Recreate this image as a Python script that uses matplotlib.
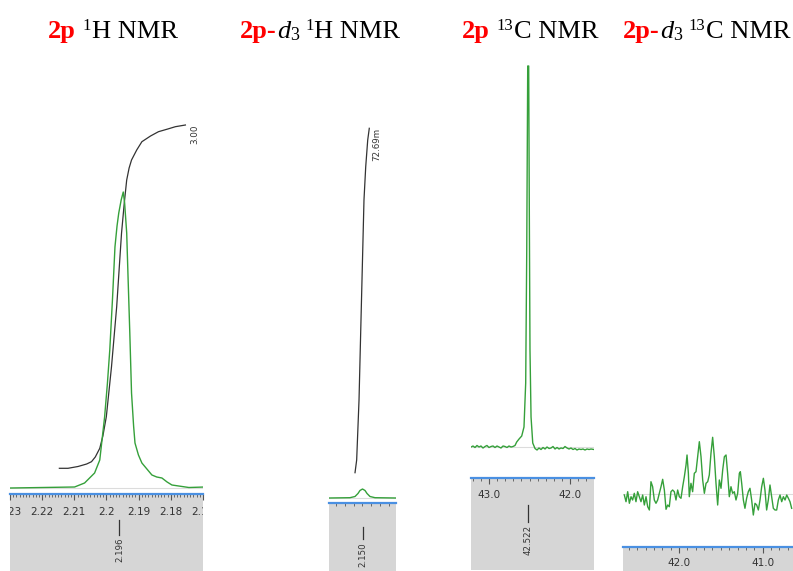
import matplotlib

matplotlib.use("Agg")
import matplotlib.pyplot as plt
import matplotlib.transforms as mtransforms
from matplotlib.ticker import MultipleLocator

W, H = 793, 571

# ---- panel 1: 2p 1H NMR ----
h1_ppm = [2.2285, 2.2100, 2.2071, 2.2042, 2.2027, 2.2013, 2.2005, 2.1998, 2.1990,
          2.1983, 2.1977, 2.1972, 2.1965, 2.1959, 2.1955, 2.1949, 2.1945, 2.1940,
          2.1935, 2.1929, 2.1925, 2.1915, 2.1905, 2.1876, 2.1862, 2.1847, 2.1832,
          2.1818, 2.1769, 2.1722]
h1_int = [0, 1, 5, 15, 28, 71, 104, 138, 190, 241, 262, 275, 288, 296, 285, 255, 210,
          155, 95, 62, 45, 33, 25, 13, 11, 10, 6, 3, 0.5, 1]
h1_integral_ppm = [2.2144, 2.2119, 2.2090, 2.2065, 2.2051, 2.2040, 2.2027, 2.2018,
                   2.2008, 2.1993, 2.1978, 2.1964, 2.1956, 2.1949, 2.1942, 2.1935,
                   2.1920, 2.1905, 2.1880, 2.1857, 2.1830, 2.1808, 2.1779]
h1_integral = [19.7, 19.7, 21.5, 24, 26.3, 31, 39.7, 52, 71.3, 121.3, 181.3, 254.7,
               285, 308, 320, 328, 338, 346.3, 352, 356.3, 359, 361.3, 363]
h1_integral_label = "3.00"
h1_integral_label_ppm = 2.1751
h1_ticks = [2.23, 2.22, 2.21, 2.20, 2.19, 2.18, 2.17]
h1_ticklabels = ["2.23", "2.22", "2.21", "2.2", "2.19", "2.18", "2.17"]
h1_peak = 2.196

# ---- panel 2: 2p-d3 1H NMR ----
h1d_ppm = [2.1885, 2.1644, 2.1586, 2.1552, 2.1529, 2.1500, 2.1471, 2.1448, 2.1414,
           2.1356, 2.1115]
h1d_int = [0, 0.3, 1.5, 4.5, 7.5, 9, 7.5, 4.5, 1.5, 0.3, 0]
h1d_integral_ppm = [2.1586, 2.1567, 2.1540, 2.1521, 2.1502, 2.1483, 2.1463, 2.1440,
                    2.1422]
h1d_integral = [25.3, 38, 98, 165, 231.3, 298, 331.3, 358, 369.7]
h1d_integral_label = "72.69m"
h1d_integral_label_ppm = 2.1333
h1d_peak = 2.150

# ---- panel 3: 2p 13C NMR ----
c13_ppm = [43.222, 43.197, 43.173, 43.148, 43.123, 43.099, 43.074, 43.049, 43.025,
           43.000, 42.975, 42.950, 42.926, 42.901, 42.876, 42.852, 42.827, 42.802,
           42.778, 42.753, 42.728, 42.704, 42.679, 42.658, 42.629, 42.596, 42.568,
           42.547, 42.534, 42.522, 42.510, 42.502, 42.494, 42.481, 42.460, 42.432,
           42.407, 42.383, 42.358, 42.333, 42.308, 42.284, 42.259, 42.234, 42.210,
           42.185, 42.160, 42.136, 42.111, 42.086, 42.062, 42.037, 42.012, 41.988,
           41.963, 41.938, 41.914, 41.889, 41.864, 41.840, 41.815, 41.790, 41.765,
           41.741, 41.704]
c13_int = [0, 1, -0.5, 1.5, 0, 1, -1, 0.5, 1.5, -0.5, 0.5, 1, -0.5, 1, 0, -1, 1, 0.5,
           -0.5, 1, 0, 0.5, 1.5, 5, 8, 11, 20, 64, 197, 381, 381, 230, 97, 30, 4,
           -1.5, -3, -1, -2.5, -0.5, -2, 0, -1.5, -1, 0.5, -2, -0.5, -2, -1, -1.5,
           0.5, -1, -2, -1, -2.5, -1.5, -3, -2, -2.5, -2, -3, -2, -2.5, -2, -2.5]
c13_ticks = [43.0, 42.0]
c13_ticklabels = ["43.0", "42.0"]
c13_peak = 42.522

# ---- panel 4: 2p-d3 13C NMR ----
c13d_ppm = [42.653, 42.633, 42.613, 42.593, 42.573, 42.554, 42.534, 42.514, 42.494,
            42.474, 42.454, 42.434, 42.414, 42.394, 42.374, 42.354, 42.335, 42.315,
            42.295, 42.275, 42.255, 42.235, 42.215, 42.195, 42.175, 42.155, 42.135,
            42.116, 42.096, 42.076, 42.056, 42.036, 42.016, 41.996, 41.976, 41.956,
            41.936, 41.916, 41.904, 41.888, 41.877, 41.857, 41.837, 41.817, 41.797,
            41.777, 41.757, 41.737, 41.717, 41.697, 41.677, 41.657, 41.638, 41.618,
            41.598, 41.578, 41.558, 41.538, 41.518, 41.498, 41.478, 41.458, 41.438,
            41.419, 41.399, 41.379, 41.359, 41.339, 41.319, 41.299, 41.279, 41.267,
            41.251, 41.231, 41.212, 41.192, 41.172, 41.152, 41.132, 41.112, 41.092,
            41.072, 41.052, 41.032, 41.012, 40.992, 40.973, 40.953, 40.933, 40.913,
            40.893, 40.873, 40.853, 40.833, 40.813, 40.793, 40.773, 40.753, 40.733,
            40.713, 40.693, 40.674, 40.654]
c13d_int = [-1, -7.7, 2.3, -9.3, -2.7, -6, 0.7, -7.7, 2.3, -2.7, -7.7, -1, -11, -2.7,
            -12.7, -16, 12.3, 7.3, -6, -9.3, -6, 0.7, 7.3, 14.7, 4, -15.3, -11, -12.7,
            2.3, 4, 2.3, -6, 4, -2.7, -4.3, 7.3, 17.3, 29, 39, 20.7, -2.7, 10.7, 2.3,
            20.7, 22.3, 37.3, 52.3, 37.3, 14, 0.7, 10.7, 12.3, 19, 40.7, 56.7, 37.3,
            10.7, -11, 14, 5.7, 24, 37.3, 39, 20.7, -2.7, 7.3, 0.7, 2.3, -6, 0.7, 20.7,
            22.3, 10.7, -6, -14.3, -4.3, 2.3, 5.7, -6, -21, -9.3, -11, -16, -6, 7.3,
            15.7, 4, -16, -6, 9, -2.7, -14.3, -16, -16, -6, -1, -7.7, -2.7, -6, -1,
            -4.3, -7.7, -14.3]
c13d_ticks = [42.0, 41.0]
c13d_ticklabels = ["42.0", "41.0"]

GREEN = "#35a03a"
DARK = "#333333"
GREY_BOX = "#d6d6d6"
BLUE = "#4a90e2"

fig = plt.figure(figsize=(W / 100, H / 100), dpi=100)


def px_axes(x0, x1, y0, y1):
    return fig.add_axes([x0 / W, 1 - y1 / H, (x1 - x0) / W, (y1 - y0) / H])


def draw_panel(x0, x1, top, bottom, base, xlim, ppm, inten,
               ticks, ticklabels, minor, label_off,
               integ_ppm=None, integ=None, integ_label=None, marker=None):
    ax = px_axes(x0, x1, 55, top)
    ax.set_xlim(*xlim)
    ax.set_ylim(-(top - base), base - 55)
    ax.axis("off")
    ax.axhline(0, color="#dcdcdc", lw=0.8, zorder=1)
    ax.plot(ppm, inten, color=GREEN, lw=1.0, zorder=3)
    if integ is not None:
        ax.plot(integ_ppm, integ, color=DARK, lw=0.9, zorder=2)
        ax.text(integ_label[1], integ[-1], integ_label[0], rotation=90,
                ha="center", va="top", fontsize=6.3, color=DARK)

    sc = px_axes(x0, x1, top, bottom)
    sc.set_xlim(*xlim)
    sc.set_ylim(0, 1)
    sc.set_facecolor(GREY_BOX)
    for side in ["left", "right", "bottom"]:
        sc.spines[side].set_visible(False)
    sc.spines["top"].set_color(BLUE)
    sc.spines["top"].set_linewidth(1.6)
    sc.set_yticks([])
    sc.set_xticks(ticks)
    sc.set_xticklabels([])
    sc.xaxis.set_minor_locator(MultipleLocator(minor))
    sc.tick_params(axis="x", which="both", top=True, bottom=False, direction="in",
                   labelbottom=False, labeltop=False, color="#555555")
    sc.tick_params(axis="x", which="major", length=4.5, width=0.8)
    sc.tick_params(axis="x", which="minor", length=2.2, width=0.6)
    h = bottom - top
    trans = mtransforms.blended_transform_factory(sc.transData, sc.transAxes)
    for v, lab in zip(ticks, ticklabels):
        sc.text(v, 1 - label_off / h, lab, transform=trans, ha="center", va="center",
                fontsize=7.5, color=DARK, clip_on=True)
    if marker is not None:
        pos, l0, l1 = marker
        sc.plot([pos, pos], [1 - l0 / h, 1 - l1 / h], transform=trans, color=DARK,
                lw=0.9)
        sc.text(pos, 1 - (l1 + 3) / h, f"{pos:.3f}", transform=trans, rotation=90,
                ha="center", va="top", fontsize=6.2, color=DARK)
    return ax


draw_panel(10, 203, 494, 571, 488, (2.2287, 2.1728), h1_ppm, h1_int,
           h1_ticks, h1_ticklabels, 0.001, 18,
           h1_integral_ppm, h1_integral, (h1_integral_label, h1_integral_label_ppm),
           (h1_peak, 26, 41))
draw_panel(329, 396, 503, 571, 498, (2.1885, 2.1115), h1d_ppm, h1d_int,
           [], [], 0.01, 18,
           h1d_integral_ppm, h1d_integral,
           (h1d_integral_label, h1d_integral_label_ppm), (h1d_peak, 24, 36))
draw_panel(471, 594, 478, 570, 447, (43.222, 41.704), c13_ppm, c13_int,
           c13_ticks, c13_ticklabels, 0.1, 17, marker=(c13_peak, 27, 44))
draw_panel(623, 793, 547, 571, 494, (42.669, 40.638), c13d_ppm, c13d_int,
           c13d_ticks, c13d_ticklabels, 0.1, 16)

# ---- titles built from styled pieces ----
renderer = fig.canvas.get_renderer()


def draw_title(x, y, pieces):
    for s, color, weight, style, size, dy, gap in pieces:
        t = fig.text(x / W, 1 - (y - dy) / H, s, color=color, fontweight=weight,
                     fontstyle=style, fontsize=size, family="Liberation Serif",
                     ha="left", va="baseline")
        x += t.get_window_extent(renderer).width + gap


RED = "#ff0000"
TS = 19
draw_title(48, 38, [("2p", RED, "bold", "normal", TS, 0, 7),
                    ("1", "black", "normal", "normal", 12, 8, 0.5),
                    ("H NMR", "black", "normal", "normal", TS, 0, 0)])
draw_title(240, 38, [("2p-", RED, "bold", "normal", TS, 0, 0),
                     ("d", "black", "normal", "italic", TS, 0, 0.5),
                     ("3", "black", "normal", "normal", 13, -2, 6),
                     ("1", "black", "normal", "normal", 12, 8, 0.5),
                     ("H NMR", "black", "normal", "normal", TS, 0, 0)])
draw_title(462, 38, [("2p", RED, "bold", "normal", TS, 0, 7),
                     ("13", "black", "normal", "normal", 12, 8, 0.5),
                     ("C NMR", "black", "normal", "normal", TS, 0, 0)])
draw_title(623, 38, [("2p-", RED, "bold", "normal", TS, 0, 0),
                     ("d", "black", "normal", "italic", TS, 0, 0.5),
                     ("3", "black", "normal", "normal", 13, -2, 6),
                     ("13", "black", "normal", "normal", 12, 8, 0.5),
                     ("C NMR", "black", "normal", "normal", TS, 0, 0)])

fig.savefig("out.png", dpi=100)
